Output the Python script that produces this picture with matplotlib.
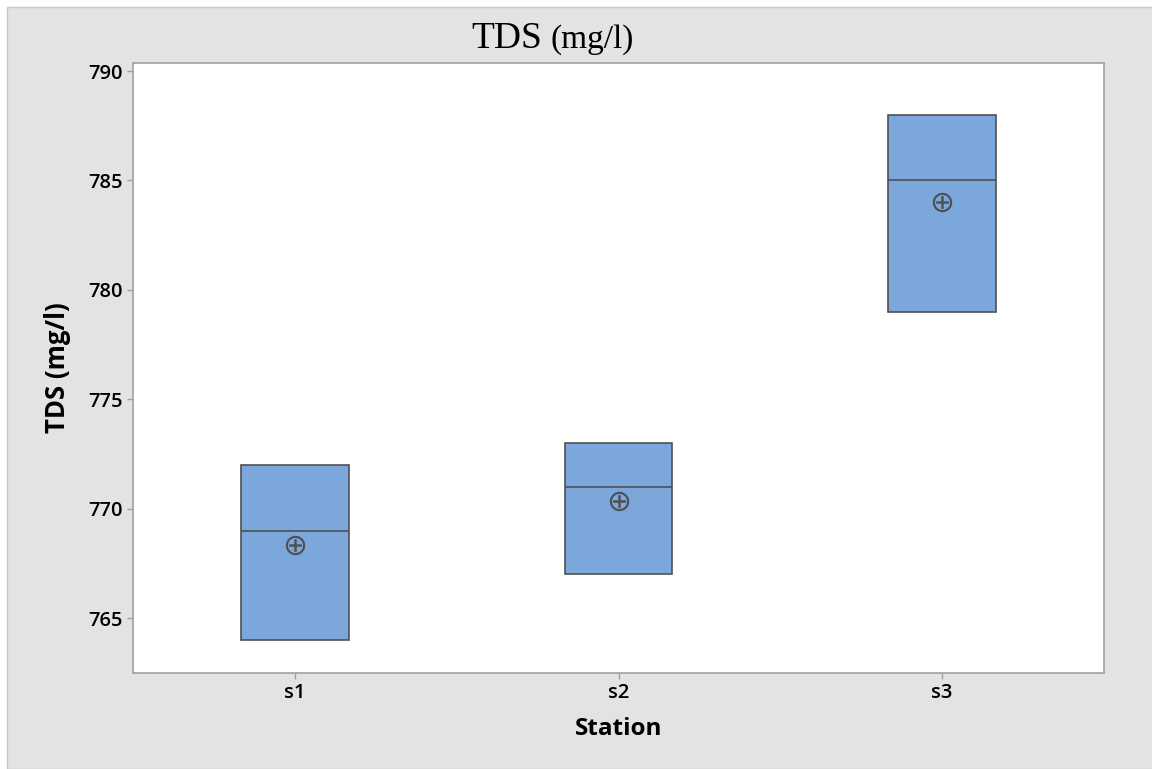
import matplotlib.pyplot as plt
from matplotlib.patches import Rectangle

# Station summaries
stations = ["s1", "s2", "s3"]
q1_values = [764, 767, 779]
medians = [769, 771, 785]
q3_values = [772, 773, 788]
means = [768.33, 770.33, 784.0]
y_ticks = [765, 770, 775, 780, 785, 790]

BG = "#e3e3e3"
BOX = "#7ba7da"
EDGE = "#505050"
SPINE = "#a0a0a0"

fig = plt.figure(figsize=(11.52, 7.69), dpi=100)
fig.patch.set_facecolor("white")
# gray frame starting a few pixels in from top/left
fig.patches.append(Rectangle((7 / 1152, 0), 1, 1 - 7 / 769, transform=fig.transFigure,
                             facecolor=BG, edgecolor="#c8c8c8", linewidth=1, zorder=-10))

ax = fig.add_axes([133 / 1152, 1 - 673 / 769, (1104 - 133) / 1152, (673 - 63) / 769])
ax.set_facecolor("white")

stats = []
for name, lo, med, hi, mu in zip(stations, q1_values, medians, q3_values, means):
    stats.append(dict(label=name, q1=lo, med=med, q3=hi, mean=mu,
                      whislo=lo, whishi=hi, fliers=[]))

ax.bxp(stats, positions=[1, 2, 3], widths=0.333, patch_artist=True,
       showmeans=True, showcaps=False,
       boxprops=dict(facecolor=BOX, edgecolor=EDGE, linewidth=1.2),
       medianprops=dict(color=EDGE, linewidth=1.2),
       whiskerprops=dict(color=EDGE, linewidth=0),
       meanprops=dict(marker="$\\oplus$", markersize=14, markeredgecolor=EDGE,
                      markerfacecolor=EDGE, markeredgewidth=0))

ax.set_xlim(0.5, 3.5)
ax.set_ylim(762.49, 790.37)
ax.set_yticks(y_ticks)
ax.set_xticks([1, 2, 3])
ax.set_xticklabels(stations)

for s in ax.spines.values():
    s.set_color(SPINE)
    s.set_linewidth(1.2)
ax.tick_params(axis="both", colors=SPINE, length=4, width=1)
ax.tick_params(axis="both", labelcolor="black", labelsize=14.5)
for lbl in ax.get_xticklabels() + ax.get_yticklabels():
    lbl.set_fontfamily("Open Sans")
    lbl.set_fontweight("semibold")

ax.set_xlabel("Station", fontfamily="Open Sans", fontweight="bold", fontsize=17.5, labelpad=10)
ax.set_ylabel("TDS (mg/l)", fontfamily="Open Sans", fontweight="bold", fontsize=18.5, labelpad=12)

# title: large "TDS" + smaller "(mg/l)" in a serif face
fig.text(507 / 1152, 1 - 48 / 769, "TDS", fontfamily="Liberation Serif", fontsize=27,
         ha="center", va="baseline")
fig.text(550 / 1152, 1 - 48 / 769, "(mg/l)", fontfamily="Liberation Serif", fontsize=24,
         ha="left", va="baseline")

fig.savefig("out.png", dpi=100, facecolor=fig.get_facecolor())
